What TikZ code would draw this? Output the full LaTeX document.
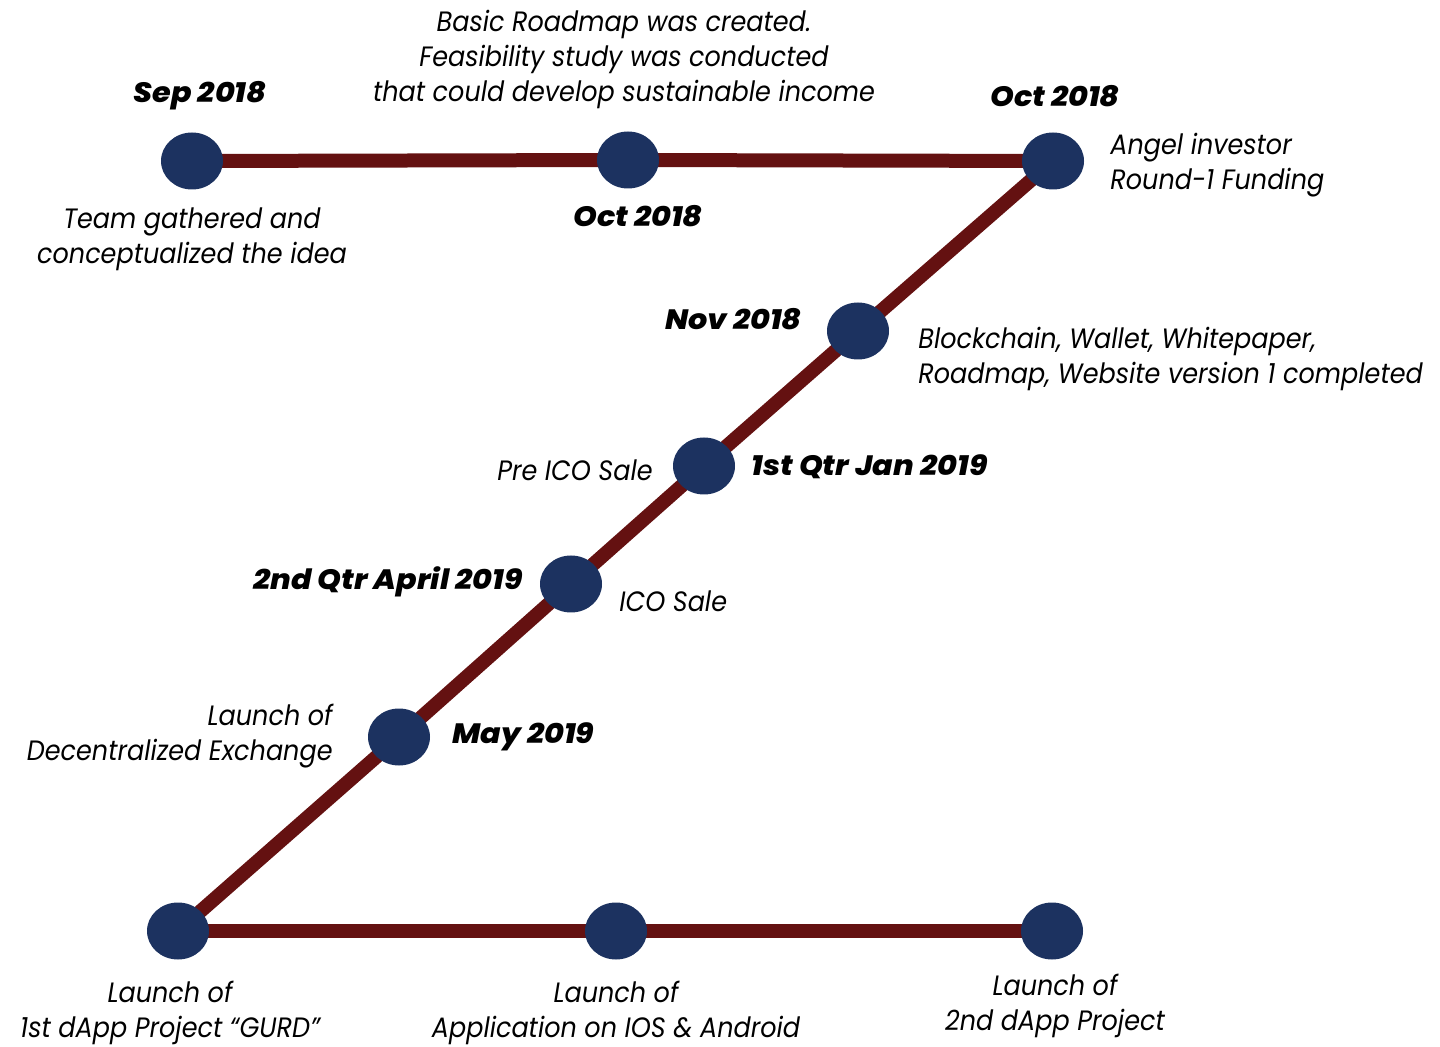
\documentclass[tikz,border=0pt]{standalone}
\usepackage{fontspec}
\setmainfont{Poppins}
\newfontfamily\notefont{Poppins Italic}[FakeStretch=0.91]
\newfontfamily\datefont{Poppins ExtraBold Italic}[FakeStretch=1.08]
\usetikzlibrary{shapes.geometric,backgrounds}
\definecolor{railred}{HTML}{641111}
\definecolor{dotblue}{HTML}{1C3260}
\begin{document}
\begin{tikzpicture}[x=0.5pt,y=-0.5pt,
  milestone/.style={ellipse,fill=dotblue,minimum width=31pt,minimum height=28.5pt,inner sep=0pt},
  railline/.style={draw=railred,line width=7pt},
  datelabel/.style={font=\fontsize{14}{17.5}\selectfont\datefont,inner sep=0pt},
  note/.style={font=\fontsize{14}{17.5}\selectfont\notefont,inner sep=0pt},
]
\useasboundingbox (0,0) rectangle (1440,1047);

% milestones
\node[milestone] (a) at (192,161) {};
\node[milestone] (b) at (628,160) {};
\node[milestone] (c) at (1053,161) {};
\node[milestone] (d) at (858,331) {};
\node[milestone] (e) at (704,466) {};
\node[milestone] (f) at (571,584) {};
\node[milestone] (g) at (399,737) {};
\node[milestone] (h) at (178,931) {};
\node[milestone] (i) at (616,931) {};
\node[milestone] (j) at (1052,931) {};

% the track behind the milestones
\begin{pgfonlayer}{background}
\draw[railline] (a.center) -- (b.center) -- (c.center);
\draw[railline] (c.center) -- (d.center) -- (e.center) -- (f.center) -- (g.center) -- (h.center);
\draw[railline] (h.center) -- (i.center) -- (j.center);
\end{pgfonlayer}

% dates and notes
\node[datelabel] (tSep) at (200,96) {Sep 2018};
\node[note,align=center] (nSep) at (192,239) {Team gathered and\\conceptualized the idea};
\node[note,align=center] (nRoad) at (624,59) {Basic Roadmap was created.\\Feasibility study was conducted\\that could develop sustainable income};
\node[datelabel] (tOctA) at (638,216) {Oct 2018};
\node[datelabel] (tOctB) at (1055,96) {Oct 2018};
\node[note,align=left,anchor=west] (nAngel) at (1110,165) {Angel investor\\Round-1 Funding};
\node[datelabel,anchor=east] (tNov) at (802,319) {Nov 2018};
\node[note,align=left,anchor=west] (nChain) at (918,359) {Blockchain, Wallet, Whitepaper,\\Roadmap, Website version 1 completed};
\node[note,anchor=east] (nPre) at (653,470) {Pre ICO Sale};
\node[datelabel,anchor=west] (tJan) at (751,467) {1st Qtr Jan 2019};
\node[datelabel,anchor=east] (tApr) at (523,582) {2nd Qtr April 2019};
\node[note,anchor=west] (nIco) at (619,601) {ICO Sale};
\node[note,align=right,anchor=east] (nDex) at (333,736) {Launch of\\Decentralized Exchange};
\node[datelabel,anchor=west] (tMay) at (452,737) {May 2019};
\node[note,align=center] (nGurd) at (170,1013) {Launch of\\1st dApp Project “GURD”};
\node[note,align=center] (nApp) at (616,1013) {Launch of\\Application on IOS \& Android};
\node[note,align=center] (nDapp) at (1055,1006) {Launch of\\2nd dApp Project};
\end{tikzpicture}
\end{document}
